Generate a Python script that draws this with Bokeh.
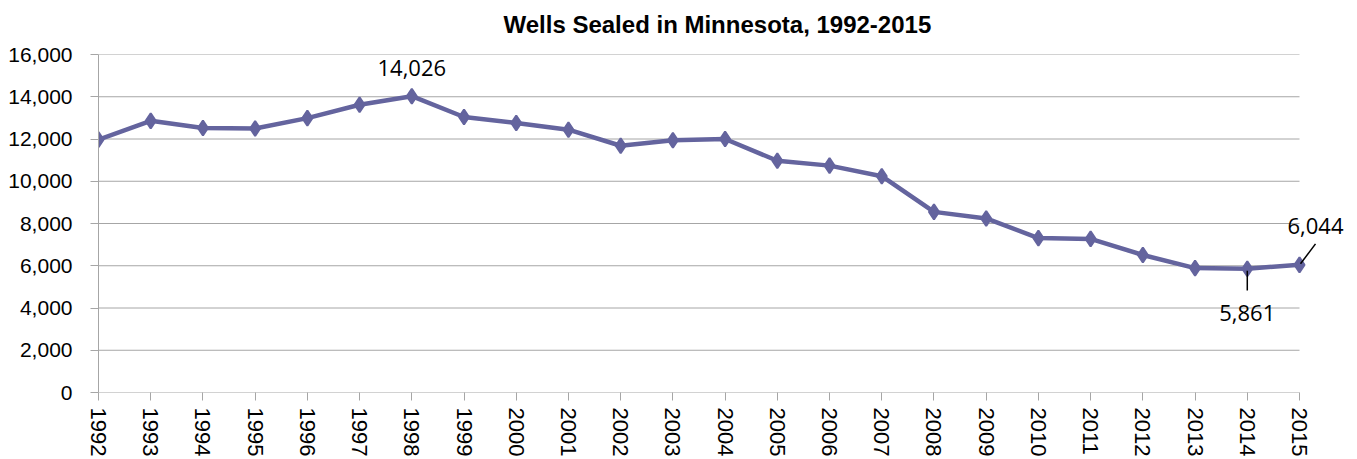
from bokeh.plotting import figure
from bokeh.models import (ColumnDataSource, NumeralTickFormatter, FixedTicker, Range1d,
                          LabelSet, Title)
from bokeh.core.properties import value
from bokeh.embed import file_html
from bokeh.resources import INLINE

years = list(range(1992, 2016))
wells = [11970, 12860, 12520, 12500, 12990, 13620, 14026, 13040, 12760, 12440,
         11680, 11940, 12000, 10970, 10740, 10240, 8550, 8240, 7310, 7270,
         6510, 5890, 5861, 6044]
y_ticks = [0, 2000, 4000, 6000, 8000, 10000, 12000, 14000, 16000]

# labelled points
lab_years = [1998, 2014, 2015]
lab_vals = [14026, 5861, 6044]
lab_text = ["14,026", "5,861", "6,044"]
title_text = "Wells Sealed in Minnesota, 1992-2015"

LINE = "#64649e"
GRID = "#a6a6a6"
AXFONT = "Liberation Sans"
W, H = 1357, 459
ML, MR = 98, 0
PX_PER_YEAR = 1201 / 23          # spacing of the year ticks in the reference
frame_w = W - ML - MR
x_end = years[0] + frame_w / PX_PER_YEAR   # frame extends past 2015 for the end label

p = figure(width=W, height=H, output_backend="svg", toolbar_location=None,
           x_range=Range1d(years[0], x_end), y_range=Range1d(y_ticks[0], y_ticks[-1]),
           min_border_left=ML, min_border_right=MR, min_border_top=0, min_border_bottom=0,
           title=None)
p.outline_line_color = None
p.background_fill_color = "white"

spacer = Title(text=" ", text_font_size="1px", standoff=6)
main = Title(text=title_text, text_font="Liberation Sans", text_font_style="bold",
             text_font_size="24px", text_color="black", align="left", offset=405,
             standoff=16, vertical_align="bottom")
p.add_layout(spacer, "above")
p.add_layout(main, "above")

p.xgrid.grid_line_color = None
p.ygrid.grid_line_color = None
# horizontal gridlines spanning only the year range
p.segment(x0=[years[0]] * len(y_ticks), x1=[years[-1]] * len(y_ticks),
          y0=y_ticks, y1=y_ticks, line_color=GRID, line_width=1)

p.yaxis.ticker = FixedTicker(ticks=y_ticks)
p.yaxis.formatter = NumeralTickFormatter(format="0,0")
p.yaxis.axis_line_color = GRID
p.yaxis.major_tick_line_color = GRID
p.yaxis.major_tick_out = 8
p.yaxis.major_tick_in = 0
p.yaxis.minor_tick_line_color = None
p.yaxis.major_label_text_font = AXFONT
p.yaxis.major_label_text_font_size = "21px"
p.yaxis.major_label_text_color = "black"
p.yaxis.major_label_standoff = 18

p.xaxis.ticker = FixedTicker(ticks=years)
p.xaxis.axis_line_color = None
p.xaxis.major_tick_line_color = GRID
p.xaxis.major_tick_out = 8
p.xaxis.major_tick_in = 0
p.xaxis.minor_tick_line_color = None
p.xaxis.major_label_orientation = "vertical"
p.xaxis.major_label_text_font = AXFONT
p.xaxis.major_label_text_font_size = "22px"
p.xaxis.major_label_text_color = "black"
p.xaxis.major_label_standoff = 7
p.xaxis.axis_label_standoff = 0
p.xaxis.axis_label_text_font_size = "1px"

src = ColumnDataSource(dict(x=years, y=wells))
p.line("x", "y", source=src, line_color=LINE, line_width=4.5)
p.scatter("x", "y", source=src, marker="diamond", size=15,
          fill_color=LINE, line_color=LINE, line_width=2)

# leader lines (pixel offsets converted to data units)
frame_h = 339.0
ux = 1 / PX_PER_YEAR
uy = (y_ticks[-1] - y_ticks[0]) / frame_h
lead = ColumnDataSource(dict(
    x0=[lab_years[1], lab_years[2] + 1 * ux],
    y0=[lab_vals[1] - 2 * uy, lab_vals[2] + 1 * uy],
    x1=[lab_years[1], lab_years[2] + 16 * ux],
    y1=[lab_vals[1] - 22 * uy, lab_vals[2] + 21 * uy]))
p.segment(x0="x0", y0="y0", x1="x1", y1="y1", source=lead,
          line_color="black", line_width=1.5)

lsrc = ColumnDataSource(dict(x=lab_years, y=lab_vals, t=lab_text,
                             xo=[0, 0, 16], yo=[20, -52, 31]))
p.add_layout(LabelSet(x="x", y="y", text="t", source=lsrc, x_offset="xo", y_offset="yo",
                      text_align="center", text_baseline="alphabetic",
                      text_font=value("Open Sans"), text_font_size="22px",
                      text_color="black"))

open("out.html", "w").write(file_html(p, INLINE))
